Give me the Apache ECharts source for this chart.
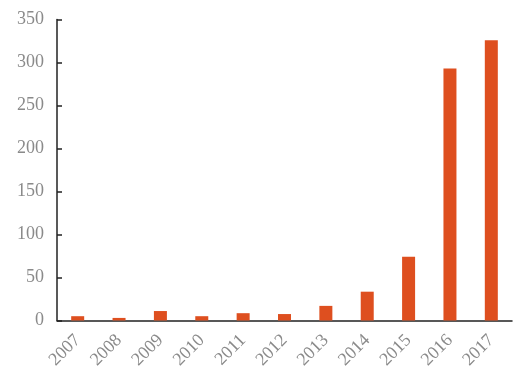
<!DOCTYPE html>
<html><head><meta charset="utf-8">
<script src="https://cdn.jsdelivr.net/npm/echarts@6/dist/echarts.min.js"></script>
<style>html,body{margin:0;padding:0;background:#fff}#c{width:520px;height:383px}</style>
</head><body><div id="c"></div>
<script>
const categories = ['2007','2008','2009','2010','2011','2012','2013','2014','2015','2016','2017'];
const values = [5, 3, 11, 5, 8.5, 7.5, 17, 33.5, 74, 293, 326];
const yTicks = {min: 0, max: 350, interval: 50};
const chart = echarts.init(document.getElementById('c'));
chart.setOption({
  animation: false,
  grid: {left: 57, right: 8, top: 19.5, bottom: 62.5},
  xAxis: {
    type: 'category', data: categories,
    axisLine: {lineStyle: {color: '#222', width: 1.5}},
    axisTick: {inside: true, length: 5, lineStyle: {color: '#222', width: 1.5}},
    axisLabel: {rotate: 45, color: '#8a8a8a', fontFamily: 'Liberation Serif', fontSize: 18, margin: 17}
  },
  yAxis: {
    type: 'value', min: yTicks.min, max: yTicks.max, interval: yTicks.interval,
    axisLine: {show: true, lineStyle: {color: '#222', width: 1.5}},
    axisTick: {show: true, inside: true, length: 5, lineStyle: {color: '#222', width: 1.5}},
    splitLine: {show: false},
    axisLabel: {color: '#8a8a8a', fontFamily: 'Liberation Serif', fontSize: 18, margin: 13}
  },
  series: [{type: 'bar', data: values, barWidth: 13, itemStyle: {color: '#DE4F1F'}}]
});
</script></body></html>
